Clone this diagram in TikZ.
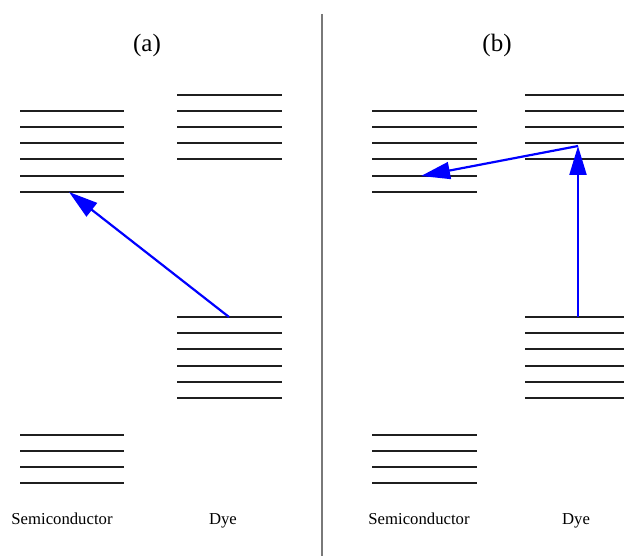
\documentclass[tikz,border=0pt]{standalone}
\usepackage{fontspec}
\setmainfont{Liberation Serif}
\usetikzlibrary{arrows.meta}
\begin{document}
\begin{tikzpicture}[x=1pt,y=-1pt,
  level/.style={line width=2pt, black!88},
  trans/.style={blue, line width=2.2pt, -{Triangle[length=29pt,width=17pt]}},
  lbl/.style={font=\fontsize{16.7}{18}\selectfont, anchor=base, inner sep=0pt},
  paneltitle/.style={font=\fontsize{25}{28}\selectfont, anchor=base, inner sep=0pt}]
\useasboundingbox (0,0) rectangle (624,556);
% separator
\draw[line width=2pt, gray!95!black] (322,14) -- (322,556);
% ---------- panel (a) ----------
\foreach \y in {111,127,143,159,176,192} \draw[level] (20,\y) -- (124,\y);
\foreach \y in {435,451,467,483} \draw[level] (20,\y) -- (124,\y);
\foreach \y in {95,111,127,143,159} \draw[level] (177,\y) -- (282,\y);
\foreach \y in {317,333,349,366,382,398} \draw[level] (177,\y) -- (282,\y);
% ---------- panel (b) ----------
\foreach \y in {111,127,143,159,176,192} \draw[level] (372,\y) -- (477,\y);
\foreach \y in {435,451,467,483} \draw[level] (372,\y) -- (477,\y);
\foreach \y in {95,111,127,143,159} \draw[level] (525,\y) -- (624,\y);
\foreach \y in {317,333,349,366,382,398} \draw[level] (525,\y) -- (624,\y);
% arrow end points
\coordinate (aStart) at (229,317);
\coordinate (aEnd) at (69,192);
\coordinate (bStart) at (578,317);
\coordinate (bMid) at (578,146);
\coordinate (bEnd) at (421,176);
\draw[trans] (aStart) -- (aEnd);
\draw[trans] (bStart) -- (bMid);
\draw[trans] (bMid) -- (bEnd);
% labels
\node[paneltitle] (ta) at (147,52) {(a)};
\node[paneltitle] (tb) at (497,52) {(b)};
\node[lbl] (sa) at (62,524) {Semiconductor};
\node[lbl] (da) at (223,524) {Dye};
\node[lbl] (sb) at (419,524) {Semiconductor};
\node[lbl] (db) at (576,524) {Dye};
\end{tikzpicture}
\end{document}
